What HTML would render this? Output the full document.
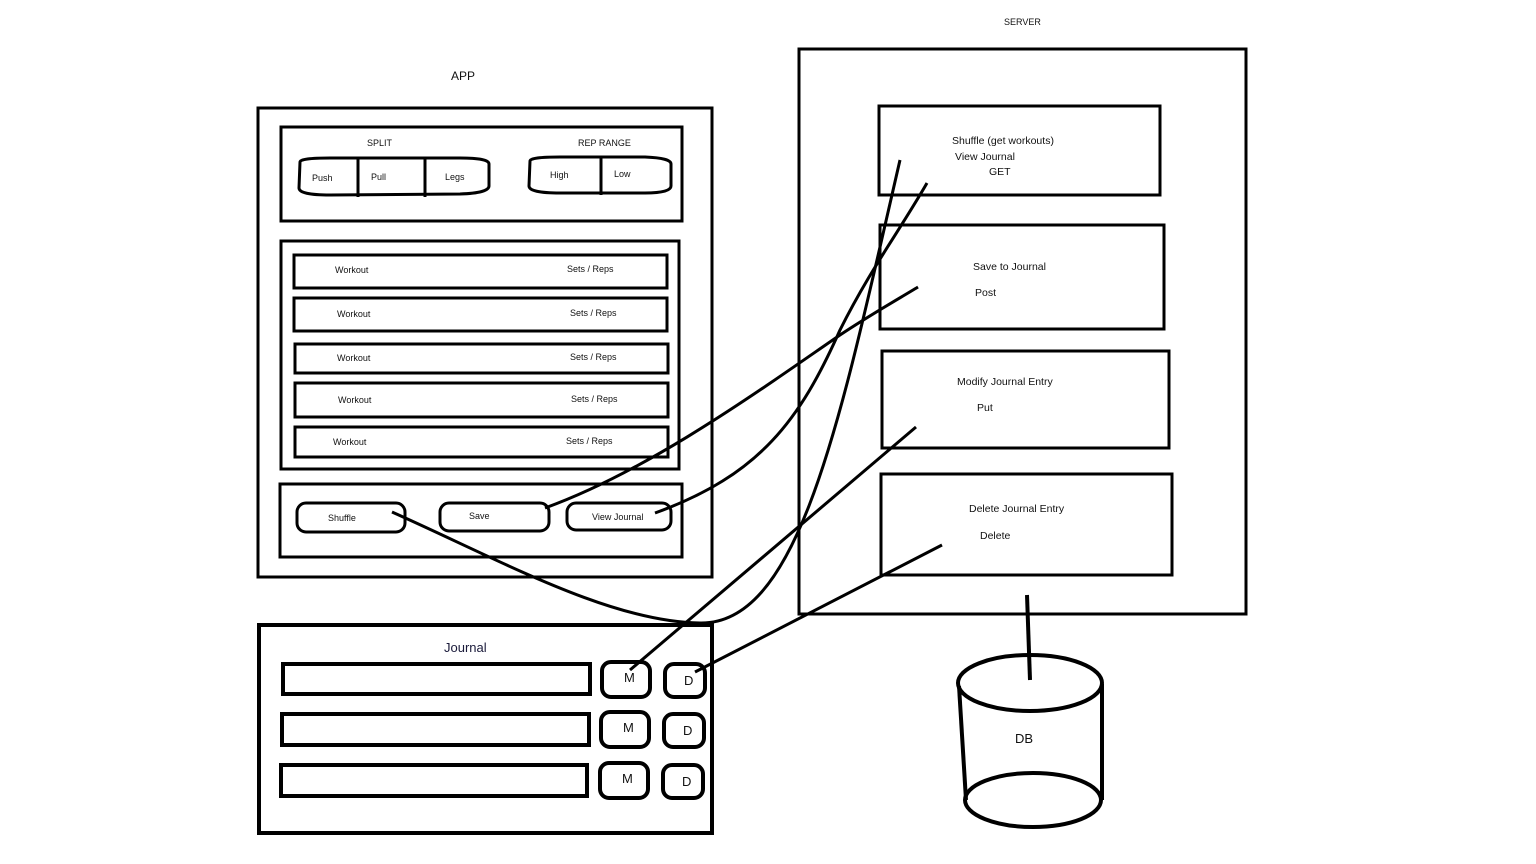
<!DOCTYPE html>
<html><head><style>
html,body{margin:0;padding:0;background:#fff;}
svg{display:block;}
text{font-family:"Liberation Sans",sans-serif;fill:#111;}
</style></head><body>
<svg width="1536" height="864" viewBox="0 0 1536 864" xmlns="http://www.w3.org/2000/svg">
<g fill="none" stroke="#000" stroke-width="3">
<!-- APP -->
<rect x="258" y="108" width="454" height="469"/>
<rect x="281" y="127" width="401" height="94"/>
<path d="M300,162 Q300,158 330,158 L460,158 Q489,158 489,164 L489,186 Q489,193 460,194 L330,195 Q299,195 299,188 Z"/>
<line x1="358" y1="158" x2="358" y2="197"/><line x1="425" y1="157" x2="425" y2="197"/>
<path d="M530,161 Q530,157 560,157 L645,157 Q671,158 671,164 L671,186 Q671,193 645,193 L560,193 Q529,193 529,186 Z"/>
<line x1="601" y1="157" x2="601" y2="195"/>
<rect x="281" y="241" width="398" height="228"/>
<rect x="294" y="255" width="373" height="33"/>
<rect x="294" y="298" width="373" height="33"/>
<rect x="295" y="344" width="373" height="29"/>
<rect x="295" y="383" width="373" height="34"/>
<rect x="295" y="427" width="373" height="30"/>
<rect x="280" y="484" width="402" height="73"/>
<rect x="297" y="503" width="108" height="29" rx="9"/>
<rect x="440" y="503" width="109" height="28" rx="9"/>
<rect x="567" y="503" width="104" height="27" rx="9"/>
<!-- Journal -->
<rect x="259" y="625" width="453" height="208" stroke-width="4"/>
<rect x="283" y="664" width="307" height="30" stroke-width="4"/>
<rect x="282" y="714" width="307" height="31" stroke-width="4"/>
<rect x="281" y="765" width="306" height="31" stroke-width="4"/>
<rect x="602" y="662" width="48" height="35" rx="9" stroke-width="4"/>
<rect x="665" y="664" width="40" height="33" rx="9" stroke-width="4"/>
<rect x="601" y="712" width="48" height="35" rx="9" stroke-width="4"/>
<rect x="664" y="714" width="40" height="33" rx="9" stroke-width="4"/>
<rect x="600" y="763" width="48" height="35" rx="9" stroke-width="4"/>
<rect x="663" y="765" width="40" height="33" rx="9" stroke-width="4"/>
<!-- SERVER -->
<rect x="799" y="49" width="447" height="565"/>
<rect x="879" y="106" width="281" height="89"/>
<rect x="880" y="225" width="284" height="104"/>
<rect x="882" y="351" width="287" height="97"/>
<rect x="881" y="474" width="291" height="101"/>
<!-- DB -->
<ellipse cx="1030" cy="683" rx="72" ry="28" stroke-width="4"/>
<ellipse cx="1033" cy="800" rx="68" ry="27" stroke-width="4"/>
<line x1="959" y1="686" x2="966" y2="800" stroke-width="4"/>
<line x1="1102" y1="684" x2="1102" y2="800" stroke-width="4"/>
<line x1="1027" y1="595" x2="1030" y2="680" stroke-width="4"/>
<!-- connectors -->
<path d="M392,512 C500,560 610,622 700,623 C800,625 840,420 900,160"/>
<path d="M655,513 C760,475 800,420 840,330 C870,270 900,230 927,183"/>
<path d="M545,508 C650,470 760,390 840,335 C870,315 900,298 918,287"/>
<line x1="630" y1="670" x2="916" y2="427"/>
<line x1="695" y1="672" x2="942" y2="545"/>
</g>
<g font-size="9" text-anchor="start">
<text x="367" y="146">SPLIT</text><text x="578" y="146">REP RANGE</text>
<text x="312" y="181">Push</text><text x="371" y="180">Pull</text><text x="445" y="180">Legs</text>
<text x="550" y="178">High</text><text x="614" y="177">Low</text>
<text x="335" y="273">Workout</text><text x="567" y="272">Sets / Reps</text>
<text x="337" y="317">Workout</text><text x="570" y="316">Sets / Reps</text>
<text x="337" y="361">Workout</text><text x="570" y="360">Sets / Reps</text>
<text x="338" y="403">Workout</text><text x="571" y="402">Sets / Reps</text>
<text x="333" y="445">Workout</text><text x="566" y="444">Sets / Reps</text>
<text x="328" y="521">Shuffle</text><text x="469" y="519">Save</text><text x="592" y="520">View Journal</text>
<text x="1004" y="25">SERVER</text>
</g>
<g font-size="10.5">
<text x="952" y="144">Shuffle (get workouts)</text>
<text x="955" y="160">View Journal</text>
<text x="989" y="175">GET</text>
<text x="973" y="270">Save to Journal</text>
<text x="975" y="296">Post</text>
<text x="957" y="385">Modify Journal Entry</text>
<text x="977" y="411">Put</text>
<text x="969" y="512">Delete Journal Entry</text>
<text x="980" y="539">Delete</text>
</g>
<text x="451" y="80" font-size="12">APP</text>
<g font-size="13" fill="#1a1a3a">
<text x="444" y="652" style="fill:#1a1a3a">Journal</text>
<text x="624" y="682">M</text><text x="684" y="685">D</text>
<text x="623" y="732">M</text><text x="683" y="735">D</text>
<text x="622" y="783">M</text><text x="682" y="786">D</text>
<text x="1015" y="743">DB</text>
</g>
</svg>
</body></html>
